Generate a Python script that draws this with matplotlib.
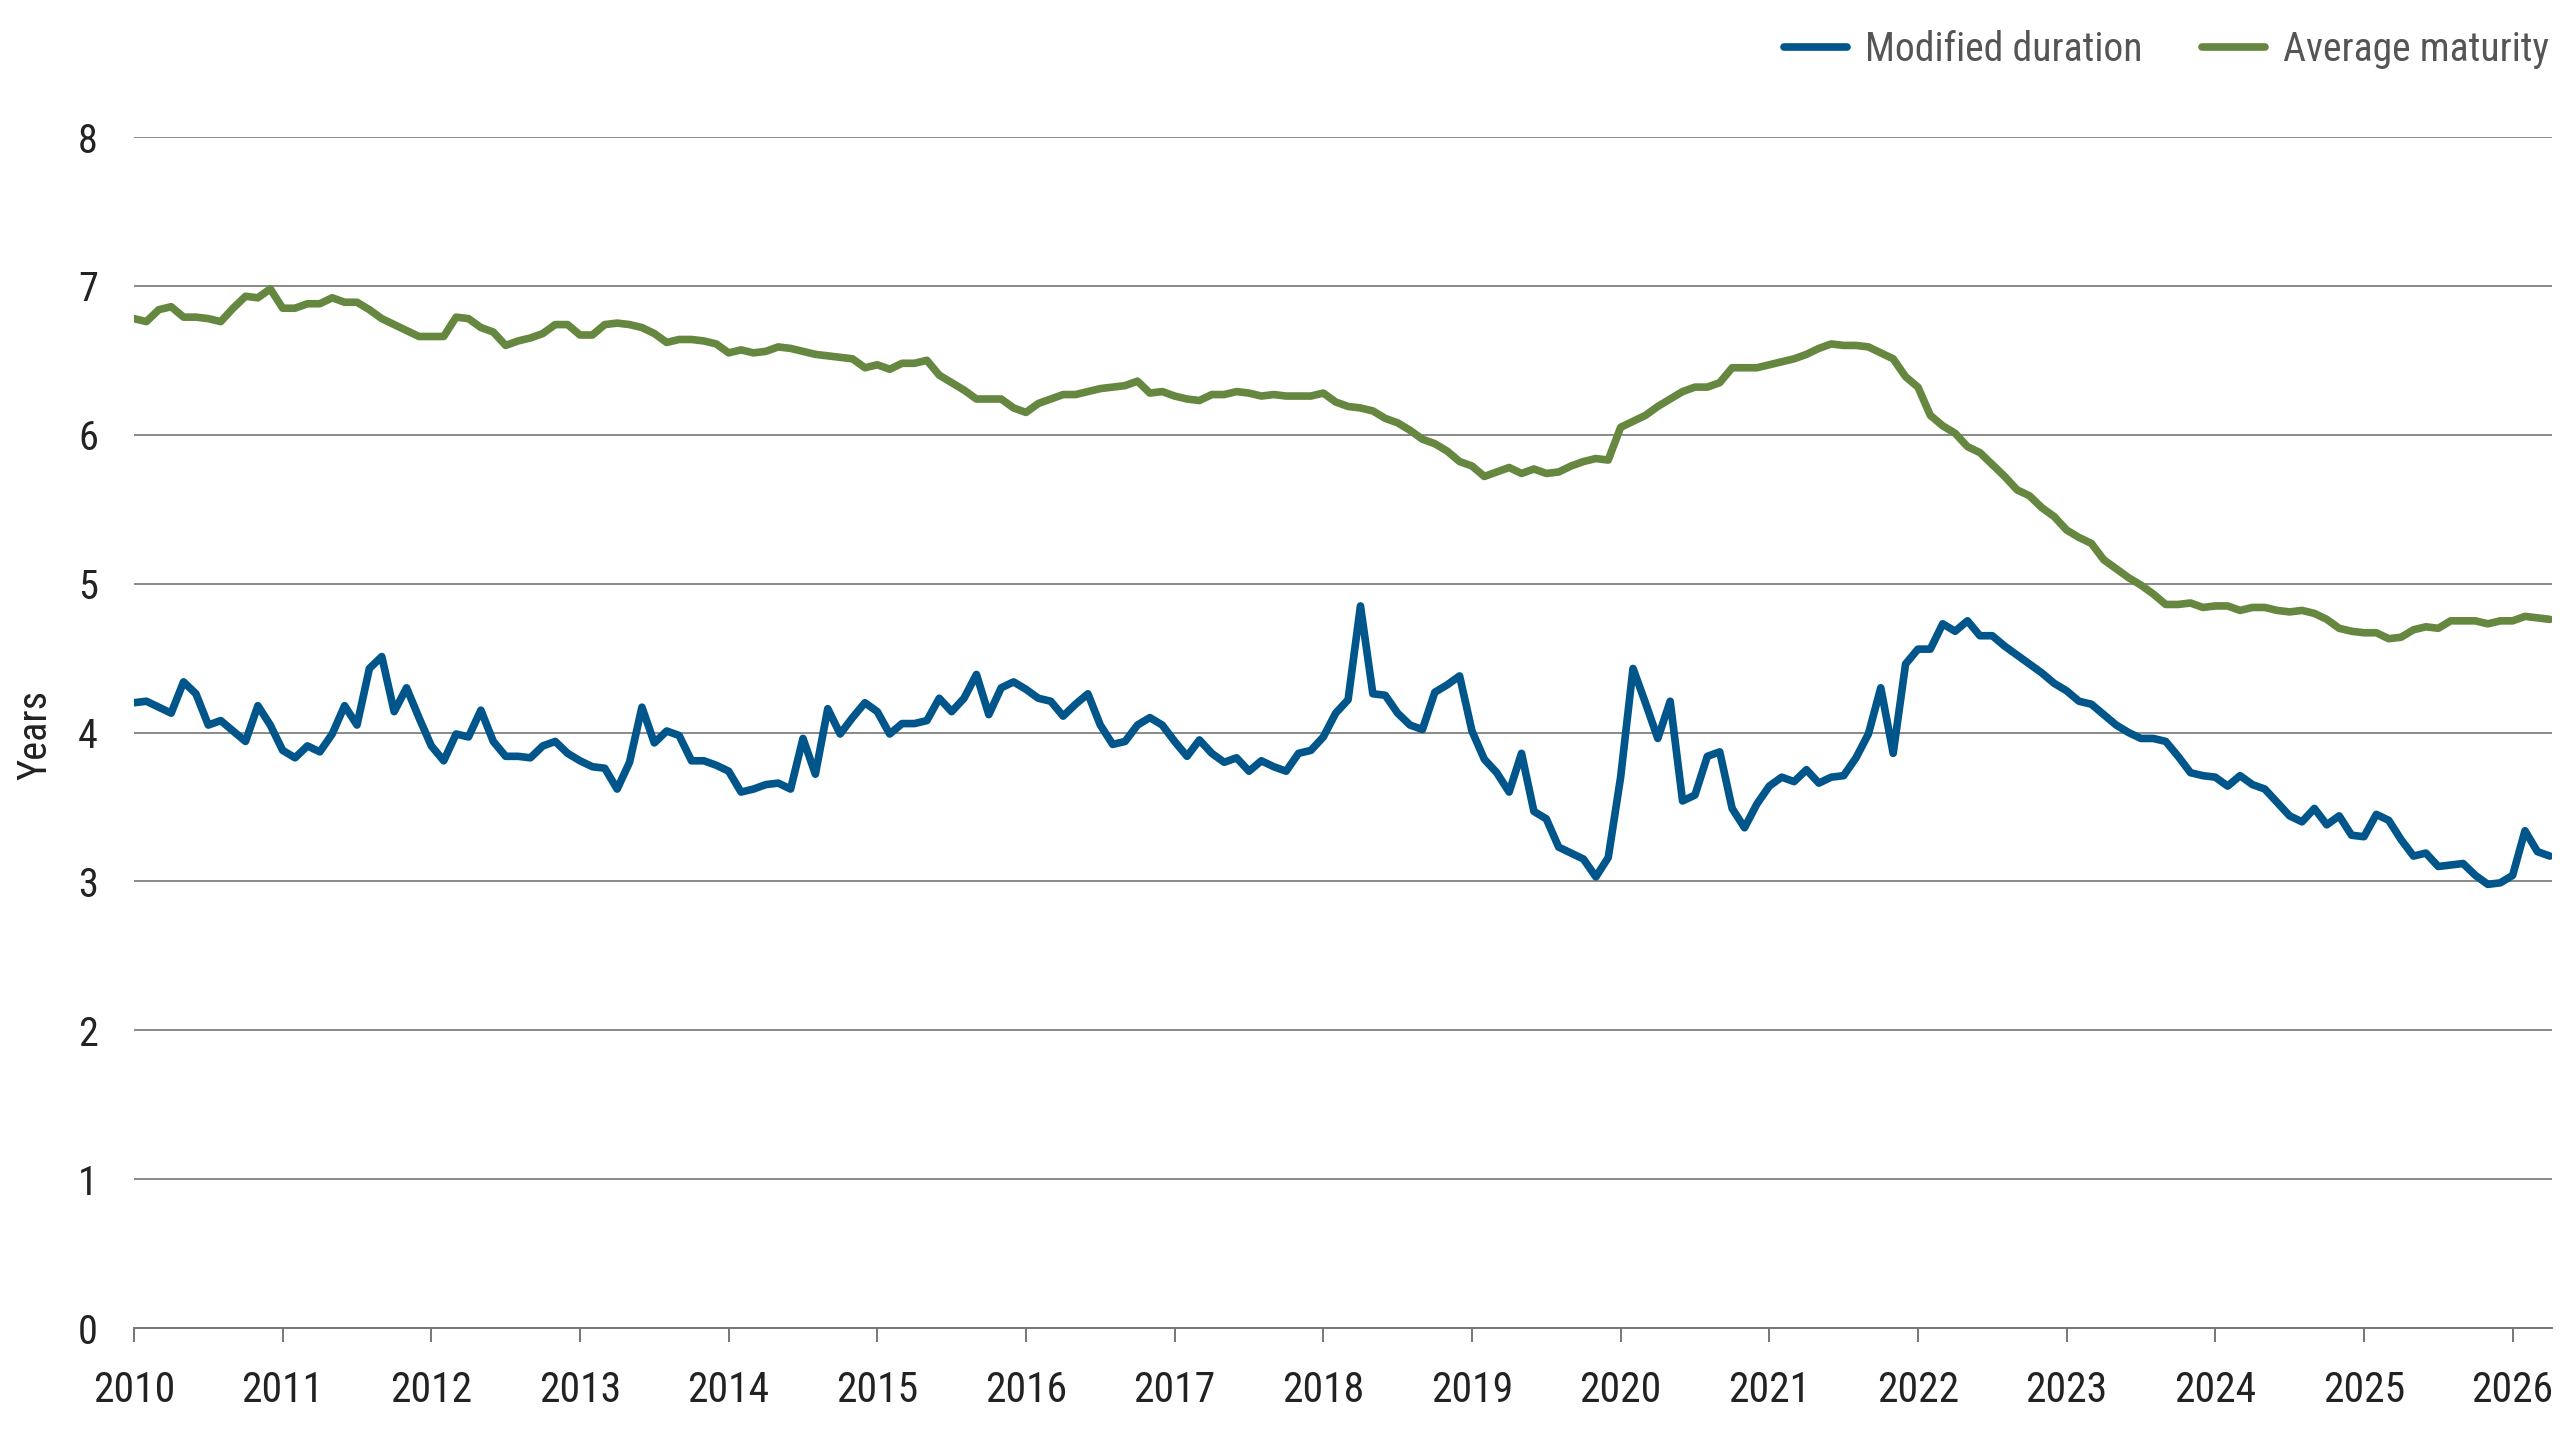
import numpy as np
import matplotlib
matplotlib.use("Agg")
import matplotlib.pyplot as plt
from matplotlib import font_manager

# monthly values, Jan 2010 onwards
duration = [4.20, 4.21, 4.17, 4.13, 4.34, 4.26, 4.05, 4.08, 4.01, 3.94, 4.18, 4.05,
            3.88, 3.83, 3.91, 3.87, 3.99, 4.18, 4.05, 4.43, 4.51, 4.14, 4.30, 4.10,
            3.91, 3.81, 3.99, 3.97, 4.15, 3.94, 3.84, 3.84, 3.83, 3.91, 3.94, 3.86,
            3.81, 3.77, 3.76, 3.62, 3.80, 4.17, 3.93, 4.01, 3.98, 3.81, 3.81, 3.78,
            3.74, 3.60, 3.62, 3.65, 3.66, 3.62, 3.96, 3.72, 4.16, 3.99, 4.10, 4.20,
            4.14, 3.99, 4.06, 4.06, 4.08, 4.23, 4.14, 4.23, 4.39, 4.12, 4.30, 4.34,
            4.29, 4.23, 4.21, 4.11, 4.19, 4.26, 4.05, 3.92, 3.94, 4.05, 4.10, 4.05,
            3.94, 3.84, 3.95, 3.86, 3.80, 3.83, 3.74, 3.81, 3.77, 3.74, 3.86, 3.88,
            3.97, 4.13, 4.22, 4.85, 4.26, 4.25, 4.13, 4.05, 4.02, 4.27, 4.32, 4.38,
            4.01, 3.82, 3.73, 3.60, 3.86, 3.47, 3.42, 3.23, 3.19, 3.15, 3.03, 3.16,
            3.70, 4.43, 4.20, 3.96, 4.21, 3.54, 3.58, 3.84, 3.87, 3.49, 3.36, 3.52,
            3.64, 3.70, 3.67, 3.75, 3.66, 3.70, 3.71, 3.83, 3.99, 4.30, 3.86, 4.46,
            4.56, 4.56, 4.73, 4.68, 4.75, 4.65, 4.65, 4.58, 4.52, 4.46, 4.40, 4.33,
            4.28, 4.21, 4.19, 4.12, 4.05, 4.00, 3.96, 3.96, 3.94, 3.84, 3.73, 3.71,
            3.70, 3.64, 3.71, 3.65, 3.62, 3.53, 3.44, 3.40, 3.49, 3.38, 3.44, 3.31,
            3.30, 3.45, 3.41, 3.28, 3.17, 3.19, 3.10, 3.11, 3.12, 3.04, 2.98, 2.99,
            3.04, 3.34, 3.20, 3.17]

maturity = [6.78, 6.76, 6.84, 6.86, 6.79, 6.79, 6.78, 6.76, 6.85, 6.93, 6.92, 6.98,
            6.85, 6.85, 6.88, 6.88, 6.92, 6.89, 6.89, 6.84, 6.78, 6.74, 6.70, 6.66,
            6.66, 6.66, 6.79, 6.78, 6.72, 6.69, 6.60, 6.63, 6.65, 6.68, 6.74, 6.74,
            6.67, 6.67, 6.74, 6.75, 6.74, 6.72, 6.68, 6.62, 6.64, 6.64, 6.63, 6.61,
            6.55, 6.57, 6.55, 6.56, 6.59, 6.58, 6.56, 6.54, 6.53, 6.52, 6.51, 6.45,
            6.47, 6.44, 6.48, 6.48, 6.50, 6.40, 6.35, 6.30, 6.24, 6.24, 6.24, 6.18,
            6.15, 6.21, 6.24, 6.27, 6.27, 6.29, 6.31, 6.32, 6.33, 6.36, 6.28, 6.29,
            6.26, 6.24, 6.23, 6.27, 6.27, 6.29, 6.28, 6.26, 6.27, 6.26, 6.26, 6.26,
            6.28, 6.22, 6.19, 6.18, 6.16, 6.11, 6.08, 6.03, 5.97, 5.94, 5.89, 5.82,
            5.79, 5.72, 5.75, 5.78, 5.74, 5.77, 5.74, 5.75, 5.79, 5.82, 5.84, 5.83,
            6.05, 6.09, 6.13, 6.19, 6.24, 6.29, 6.32, 6.32, 6.35, 6.45, 6.45, 6.45,
            6.47, 6.49, 6.51, 6.54, 6.58, 6.61, 6.60, 6.60, 6.59, 6.55, 6.51, 6.39,
            6.32, 6.13, 6.06, 6.01, 5.92, 5.88, 5.80, 5.72, 5.63, 5.59, 5.51, 5.45,
            5.36, 5.31, 5.27, 5.16, 5.10, 5.04, 4.99, 4.93, 4.86, 4.86, 4.87, 4.84,
            4.85, 4.85, 4.82, 4.84, 4.84, 4.82, 4.81, 4.82, 4.80, 4.76, 4.70, 4.68,
            4.67, 4.67, 4.63, 4.64, 4.69, 4.71, 4.70, 4.75, 4.75, 4.75, 4.73, 4.75,
            4.75, 4.78, 4.77, 4.76]

start_year = 2010
years = list(range(2010, 2027))
yticks = list(range(0, 9))

names = {f.name for f in font_manager.fontManager.ttflist}
font = "Roboto Condensed" if "Roboto Condensed" in names else "Roboto"
plt.rcParams["font.family"] = [font, "DejaVu Sans"]

x = start_year + np.arange(len(duration)) / 12.0

fig = plt.figure(figsize=(25.6, 14.4), dpi=100)
ax = fig.add_axes([134/2560, 1-1328/1440, (2552-134)/2560, (1328-137)/1440])

ax.plot(x, duration, color="#00558A", lw=5.5, label="Modified duration",
        solid_joinstyle="round", solid_capstyle="round", zorder=3)
ax.plot(x, maturity, color="#66873F", lw=5.5, label="Average maturity",
        solid_joinstyle="round", solid_capstyle="round", zorder=3)

ax.set_xlim(2010, 2026.265)
ax.set_ylim(0, 8)
ax.set_yticks(yticks)
ax.set_xticks(years)
ax.set_xticklabels([str(y) for y in years])
ax.yaxis.grid(True, color="#767676", lw=1.2, zorder=1)
ax.set_axisbelow(True)

for s in ["top", "right", "left"]:
    ax.spines[s].set_visible(False)
ax.spines["bottom"].set_color("#767676")
ax.spines["bottom"].set_linewidth(1.4)

ax.tick_params(axis="y", length=0, pad=26, labelsize=29, labelcolor="#222222")
ax.tick_params(axis="x", length=10, width=1.4, color="#767676", pad=20,
               labelsize=30, labelcolor="#222222")

fig.text(35/2560, 1-735/1440, "Years", rotation=90, ha="center", va="center",
         fontsize=29, color="#222222")

leg = fig.legend(loc="upper right", bbox_to_anchor=(2549/2560, 1-30/1440), ncol=2,
                 frameon=False, fontsize=28.5, handlelength=1.6, handletextpad=0.45,
                 columnspacing=1.5, borderaxespad=0, borderpad=0)
for t in leg.get_texts():
    t.set_color("#555555")

fig.savefig("out.png", dpi=100)
